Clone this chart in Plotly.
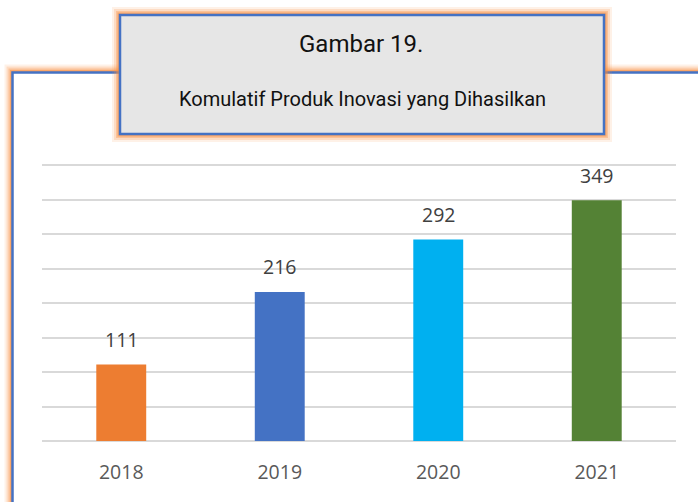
import plotly.graph_objects as go

years = ["2018", "2019", "2020", "2021"]
values = [111, 216, 292, 349]
colors = ["#ED7D31", "#4472C4", "#00B0F0", "#548235"]
title_line1 = "Gambar 19."
title_line2 = "Komulatif Produk Inovasi yang Dihasilkan"

W, H = 698, 502
label_font = "Open Sans, Liberation Sans, sans-serif"
title_font = "Roboto, sans-serif"

fig = go.Figure()
fig.add_trace(go.Bar(
    x=years, y=values, marker=dict(color=colors, line=dict(width=0)),
    width=0.315, hoverinfo="skip"))

def px(x):
    return x / W

def py(y):
    return 1 - y / H

GLOW = [(16, 0.12), (12, 0.20), (8, 0.32), (5, 0.50)]
shapes = []

def framed_rect(x0, y0, x1, y1, fill, layer):
    for w, a in GLOW:
        shapes.append(dict(type="rect", xref="paper", yref="paper",
                           x0=px(x0), x1=px(x1), y0=py(y1), y1=py(y0),
                           line=dict(color=f"rgba(250,140,60,{a})", width=w),
                           fillcolor="rgba(0,0,0,0)", layer=layer))
    shapes.append(dict(type="rect", xref="paper", yref="paper",
                       x0=px(x0), x1=px(x1), y0=py(y1), y1=py(y0),
                       line=dict(color="#4472C4", width=2.5),
                       fillcolor=fill, layer=layer))

framed_rect(12.5, 72.5, 725, 530, "white", "below")
framed_rect(120, 15, 604, 134, "#E6E6E6", "above")

annotations = [
    dict(text=title_line1, x=px(361), y=py(44), xref="paper", yref="paper", showarrow=False,
         font=dict(family=title_font, size=24, color="#111111"),
         xanchor="center", yanchor="middle"),
    dict(text=title_line2, x=px(362), y=py(99), xref="paper", yref="paper", showarrow=False,
         font=dict(family=title_font, size=20, color="#111111"),
         xanchor="center", yanchor="middle"),
]
for i, v in enumerate(values):
    annotations.append(dict(text=str(v), x=i, y=v, xref="x", yref="y", showarrow=False,
                            xanchor="center", yanchor="middle", yshift=25,
                            font=dict(family=label_font, size=19.5, color="#404040")))

fig.update_layout(
    width=W, height=H, margin=dict(l=0, r=0, t=0, b=0, autoexpand=False),
    paper_bgcolor="white", plot_bgcolor="rgba(0,0,0,0)",
    showlegend=False,
    shapes=shapes,
    annotations=annotations,
    xaxis=dict(type="category", range=[-0.5, len(years) - 0.5], autorange=False,
               domain=[px(42), px(676)], showgrid=False, showline=False,
               zeroline=False, automargin=False,
               ticks="", tickfont=dict(family=label_font, size=19.5, color="#595959"),
               ticklabelstandoff=17),
    yaxis=dict(domain=[py(441), py(441 - 276 * 402 / 400)], range=[0, 402], autorange=False,
               tick0=0, dtick=50, showticklabels=False, automargin=False,
               showgrid=True, gridcolor="#D9D9D9", gridwidth=1.5, zeroline=True,
               zerolinecolor="#D9D9D9", zerolinewidth=1.5),
)

fig.write_html("out.html", config={"displayModeBar": False},
               post_script="document.body.style.margin='0';document.body.style.overflow='hidden';")
